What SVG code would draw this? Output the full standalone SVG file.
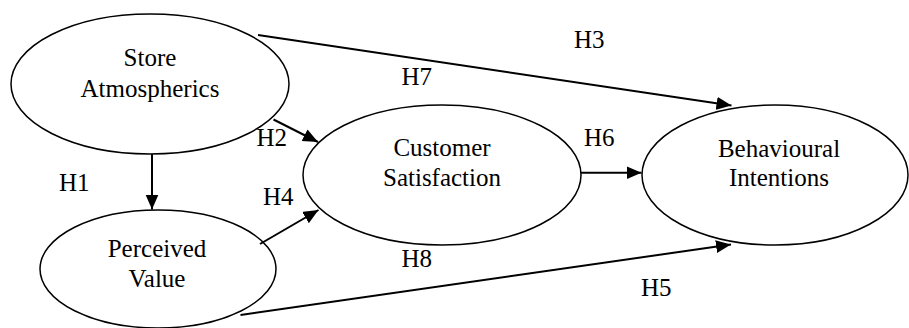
<svg xmlns="http://www.w3.org/2000/svg" width="909" height="328" viewBox="0 0 909 328">
  <style>
    .node ellipse { fill: #fff; stroke: #000; stroke-width: 1.5; }
    text { font-family: 'Liberation Serif', serif; font-size: 25px; fill: #000; }
    .label { text-anchor: middle; }
    .edge { stroke: #000; stroke-width: 2; fill: none; marker-end: url(#arrow); }
  </style>
  <defs>
    <marker id="arrow" markerUnits="userSpaceOnUse" markerWidth="16" markerHeight="14" refX="15" refY="6.5" orient="auto">
      <path d="M0,0 L15,6.5 L0,13 Z" fill="#000"/>
    </marker>
  </defs>
  <rect width="909" height="328" fill="#fff"/>

  <!-- latent constructs -->
  <g id="store-atmospherics" class="node">
    <ellipse cx="150" cy="84" rx="139" ry="70"/>
    <text class="label" x="150" y="66">Store</text>
    <text class="label" x="150" y="97">Atmospherics</text>
  </g>
  <g id="customer-satisfaction" class="node">
    <ellipse cx="442" cy="175" rx="139" ry="70"/>
    <text class="label" x="442" y="155.5">Customer</text>
    <text class="label" x="442" y="185.5">Satisfaction</text>
  </g>
  <g id="perceived-value" class="node">
    <ellipse cx="158" cy="269" rx="118" ry="59"/>
    <text class="label" x="157" y="257">Perceived</text>
    <text class="label" x="157" y="286.5">Value</text>
  </g>
  <g id="behavioural-intentions" class="node">
    <ellipse cx="775" cy="175" rx="133" ry="70"/>
    <text class="label" x="779" y="156.5">Behavioural</text>
    <text class="label" x="779" y="186">Intentions</text>
  </g>

  <!-- hypothesised paths -->
  <g id="connectors">
    <line class="edge" x1="152" y1="154" x2="152" y2="209.5"/>
    <line class="edge" x1="273.5" y1="119.5" x2="318" y2="142"/>
    <line class="edge" x1="258" y1="35" x2="731.5" y2="105.5"/>
    <line class="edge" x1="260" y1="244" x2="318.5" y2="210"/>
    <line class="edge" x1="581" y1="172.7" x2="641.5" y2="172.7"/>
    <line class="edge" x1="240.5" y1="315" x2="731" y2="244.5"/>
  </g>

  <!-- path labels -->
  <g id="hypothesis-labels">
    <text x="59" y="190.5">H1</text>
    <text x="256.5" y="145.5">H2</text>
    <text x="574" y="47.5">H3</text>
    <text x="263" y="205">H4</text>
    <text x="641" y="296">H5</text>
    <text x="584" y="145.5">H6</text>
    <text x="401.5" y="84.5">H7</text>
    <text x="401.5" y="266.5">H8</text>
  </g>
</svg>
